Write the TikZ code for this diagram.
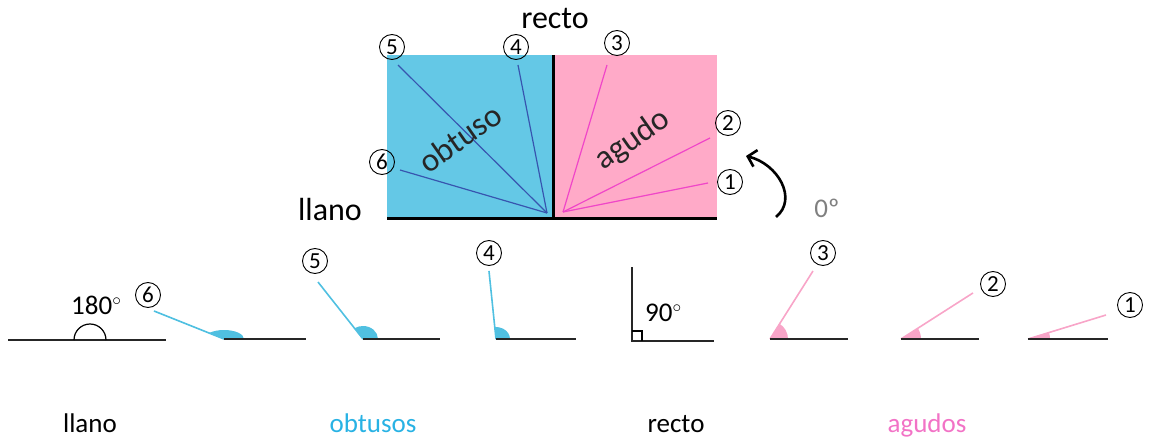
\documentclass[tikz,border=0pt]{standalone}
\usepackage{fontspec}
\setmainfont{Carlito}
\usetikzlibrary{arrows.meta}
\definecolor{boxblue}{RGB}{100,200,230}
\definecolor{boxpink}{RGB}{255,170,200}
\definecolor{rayblue}{RGB}{55,85,175}
\definecolor{raymag}{RGB}{240,70,200}
\definecolor{obtcyan}{RGB}{80,192,225}
\definecolor{acupink}{RGB}{248,165,200}
\definecolor{labcyan}{RGB}{40,178,228}
\definecolor{labpink}{RGB}{242,115,198}
\definecolor{zerogray}{RGB}{128,128,128}
\begin{document}
\begin{tikzpicture}[x=1pt,y=1pt,
  num/.style={circle,draw=black,line width=0.9pt,minimum size=25pt,inner sep=0pt,font=\fontsize{23}{23}\selectfont},
  big/.style={font=\fontsize{32}{34}\selectfont},
  rot/.style={font=\fontsize{33}{35}\selectfont,text=black!85,rotate=35},
  lab/.style={font=\fontsize{27}{30}\selectfont,anchor=base},
  deg/.style={font=\fontsize{27}{30}\selectfont,anchor=west,inner sep=0pt},
  thickline/.style={draw=black,line width=3pt},
  hline/.style={draw=black!85,line width=1.8pt},
  topblue/.style={draw=rayblue,line width=1.2pt},
  toppink/.style={draw=raymag,line width=1.2pt},
  obray/.style={draw=obtcyan,line width=1.6pt},
  acray/.style={draw=acupink,line width=1.6pt}]
\useasboundingbox (0,0) rectangle (1161,437);

% ---------- top figure ----------
\fill[boxblue] (387,219) rectangle (553,382);
\fill[boxpink] (553,219) rectangle (717,382);

\coordinate (vb) at (547,224);
\coordinate (vp) at (563,225);
\coordinate (tb5) at (398,372);
\coordinate (tb4) at (518,372);
\coordinate (tb6) at (400,267);
\coordinate (tp3) at (607,372);
\coordinate (tp2) at (710,299);
\coordinate (tp1) at (708,254);

\draw[topblue] (vb) -- (tb5);
\draw[topblue] (vb) -- (tb4);
\draw[topblue] (vb) -- (tb6);
\draw[toppink] (vp) -- (tp3);
\draw[toppink] (vp) -- (tp2);
\draw[toppink] (vp) -- (tp1);

\coordinate (vtop) at (553,382);
\coordinate (vbot) at (553,219);
\coordinate (hl) at (387,219);
\coordinate (hr) at (717,219);
\draw[thickline] (vtop) -- (vbot);
\draw[thickline] (hl) -- (hr);

\node[num] (n5t) at (392,390) {5};
\node[num] (n4t) at (516,390) {4};
\node[num] (n3t) at (617,394) {3};
\node[num] (n2t) at (728,314) {2};
\node[num] (n1t) at (730,255) {1};
\node[num] (n6t) at (382,275) {6};

\node[big] (rectot) at (555,418) {recto};
\node[big] (llanot) at (330,227) {llano};
\node[rot] (obt) at (460,299) {obtuso};
\node[rot] (agu) at (633,297) {agudo};
\node[font=\fontsize{27}{30}\selectfont,text=zerogray] (zero) at (827,229) {0º};

\coordinate (atail) at (776,220);
\coordinate (atip) at (746,281);
\draw[line width=2.6pt,-{Straight Barb[length=8pt,width=17pt]}]
  (atail) .. controls (798,238) and (778,273) .. (atip);

% ---------- bottom row ----------
% llano
\coordinate (l0) at (8,97);
\coordinate (l1) at (166,97);
\coordinate (lc) at (90,97);
\draw[hline] (l0) -- (l1);
\draw[line width=1.2pt] (74,97) arc[start angle=180,end angle=0,radius=16];
\node[deg] (t180) at (71,132) {180$^{\circ}$};

% obtuse 6
\coordinate (v6) at (224,98);
\coordinate (e6) at (306,98);
\path (v6) ++(158.2:75.4) coordinate (r6);
\fill[obtcyan] (v6) -- ++(20,0) arc[start angle=0,end angle=138.4,x radius=20,y radius=9] -- cycle;
\draw[obray] (v6) -- (r6);
\draw[hline] (v6) -- (e6);
\node[num] (n6) at (148,142) {6};

% obtuse 5
\coordinate (v5) at (363,98);
\coordinate (e5) at (440,98);
\path (v5) ++(128.3:72.6) coordinate (r5);
\fill[obtcyan] (v5) -- ++(15,0) arc[start angle=0,end angle=124.4,x radius=15,y radius=13] -- cycle;
\draw[obray] (v5) -- (r5);
\draw[hline] (v5) -- (e5);
\node[num] (n5) at (315,176) {5};

% obtuse 4
\coordinate (v4) at (496,98);
\coordinate (e4) at (576,98);
\path (v4) ++(95.9:68.4) coordinate (r4);
\fill[obtcyan] (v4) -- ++(14,0) arc[start angle=0,end angle=95.1,x radius=14,y radius=12] -- cycle;
\draw[obray] (v4) -- (r4);
\draw[hline] (v4) -- (e4);
\node[num] (n4) at (489,184) {4};

% right angle
\coordinate (vr) at (632,96);
\coordinate (ur) at (632,169);
\coordinate (er) at (713,96);
\draw[hline,line cap=rect] (ur) -- (vr) -- (er);
\draw[line width=1.2pt] (632,106) -- (642,106) -- (642,96);
\node[deg] (t90) at (645,124) {90$^{\circ}$};

% acute 3
\coordinate (v3) at (770,98);
\coordinate (e3) at (848,98);
\path (v3) ++(57.7:80.5) coordinate (r3);
\fill[acupink] (v3) -- ++(0:18) arc[start angle=0,end angle=57.7,radius=18] -- cycle;
\draw[acray] (v3) -- (r3);
\draw[hline] (v3) -- (e3);
\node[num] (n3) at (823,184) {3};

% acute 2
\coordinate (v2) at (901,98);
\coordinate (e2) at (979,98);
\path (v2) ++(32.6:85.4) coordinate (r2);
\fill[acupink] (v2) -- ++(0:20) arc[start angle=0,end angle=32.6,radius=20] -- cycle;
\draw[acray] (v2) -- (r2);
\draw[hline] (v2) -- (e2);
\node[num] (n2) at (993,153) {2};

% acute 1
\coordinate (v1) at (1028,98);
\coordinate (e1) at (1108,98);
\path (v1) ++(17.1:81.6) coordinate (r1);
\fill[acupink] (v1) -- ++(0:22) arc[start angle=0,end angle=17.1,radius=22] -- cycle;
\draw[acray] (v1) -- (r1);
\draw[hline] (v1) -- (e1);
\node[num] (n1) at (1130,132) {1};

% bottom labels
\node[lab] (bllano) at (90,5) {llano};
\node[lab,text=labcyan] (bobt) at (373,5) {obtusos};
\node[lab] (brecto) at (676,5) {recto};
\node[lab,text=labpink] (bagu) at (927,5) {agudos};
\end{tikzpicture}
\end{document}
